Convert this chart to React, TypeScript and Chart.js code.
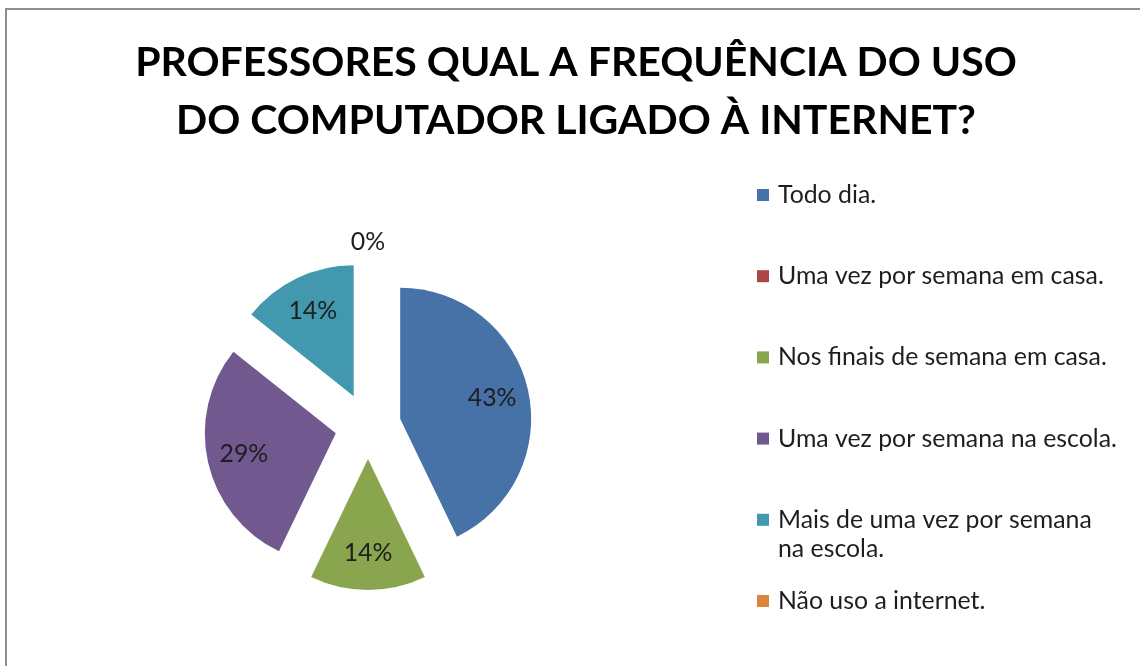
import React, { useEffect, useRef } from 'react';
import { Chart, registerables } from 'chart.js';

Chart.register(...registerables);

const TITLE_LINES = ['PROFESSORES QUAL A FREQUÊNCIA DO USO', 'DO COMPUTADOR LIGADO À INTERNET?'];
const categories = [
  'Todo dia.',
  'Uma vez por semana em casa.',
  'Nos finais de semana em casa.',
  'Uma vez por semana na escola.',
  'Mais de uma vez por semana na escola.',
  'Não uso a internet.',
];
const values = [3, 0, 1, 2, 1, 0];
const colors = ['#4672A8', '#AA4643', '#89A54E', '#71588F', '#4198AF', '#DB843D'];

const W = 1140;
const H = 666;
const EXPLODE = 33;
const FONT = 'Lato, "Open Sans", sans-serif';

function fitSize(ctx: CanvasRenderingContext2D, text: string, weight: string, target: number) {
  const base = 40;
  ctx.font = `${weight} ${base}px ${FONT}`;
  const w = ctx.measureText(text).width;
  return (base * target) / w;
}

function wrap(ctx: CanvasRenderingContext2D, text: string, maxWidth: number) {
  const words = text.split(' ');
  const lines: string[] = [];
  let cur = '';
  for (const w of words) {
    const t = cur ? cur + ' ' + w : w;
    if (ctx.measureText(t).width > maxWidth && cur) {
      lines.push(cur);
      cur = w;
    } else cur = t;
  }
  if (cur) lines.push(cur);
  return lines;
}

const decorPlugin = {
  id: 'decor',
  beforeDraw(chart: any) {
    const ctx = chart.ctx as CanvasRenderingContext2D;
    ctx.save();
    ctx.fillStyle = '#ffffff';
    ctx.fillRect(0, 0, chart.width, chart.height);
    ctx.strokeStyle = '#8e8e8e';
    ctx.lineWidth = 2;
    ctx.beginPath();
    ctx.moveTo(6, chart.height);
    ctx.lineTo(6, 9);
    ctx.lineTo(chart.width, 9);
    ctx.stroke();
    ctx.restore();
  },
  beforeDatasetDraw(chart: any, args: any) {
    const ctx = chart.ctx as CanvasRenderingContext2D;
    for (const arc of args.meta.data) {
      const mid = (arc.startAngle + arc.endAngle) / 2;
      ctx.save();
      ctx.translate(Math.cos(mid) * EXPLODE, Math.sin(mid) * EXPLODE);
      arc.draw(ctx);
      ctx.restore();
    }
    return false;
  },
  afterDatasetsDraw(chart: any) {
    const ctx = chart.ctx as CanvasRenderingContext2D;
    const meta = chart.getDatasetMeta(0);
    const data = chart.data.datasets[0].data as number[];
    const total = data.reduce((a, b) => a + b, 0);
    const size = fitSize(ctx, 'Uma vez por semana em casa.', 'normal', 326);
    ctx.save();
    ctx.font = `normal ${size}px ${FONT}`;
    ctx.fillStyle = '#1e1e1e';
    ctx.textAlign = 'center';
    ctx.textBaseline = 'middle';
    meta.data.forEach((arc: any, i: number) => {
      const v = data[i];
      if (v === 0 && i !== data.length - 1) return;
      const mid = (arc.startAngle + arc.endAngle) / 2;
      const ax = arc.x + Math.cos(mid) * EXPLODE;
      const ay = arc.y + Math.sin(mid) * EXPLODE;
      const d = v === 0 ? arc.outerRadius * 1.15 : arc.outerRadius * 0.72;
      const label = Math.round((v / total) * 100) + '%';
      ctx.fillText(label, ax + Math.cos(mid) * d, ay + Math.sin(mid) * d);
    });
    ctx.restore();
  },
  afterDraw(chart: any) {
    const ctx = chart.ctx as CanvasRenderingContext2D;
    ctx.save();
    // title
    const tSize = fitSize(ctx, TITLE_LINES[0], 'bold', 882);
    ctx.font = `bold ${tSize}px ${FONT}`;
    ctx.fillStyle = '#000000';
    ctx.textAlign = 'center';
    ctx.textBaseline = 'middle';
    TITLE_LINES.forEach((line, i) => ctx.fillText(line, 576, 63 + i * 58));
    // legend
    const size = fitSize(ctx, 'Uma vez por semana em casa.', 'normal', 326);
    ctx.font = `normal ${size}px ${FONT}`;
    ctx.textAlign = 'left';
    const labels = chart.data.labels as string[];
    const bg = chart.data.datasets[0].backgroundColor as string[];
    labels.forEach((lab, i) => {
      const y = 195 + i * 81.2;
      ctx.fillStyle = bg[i];
      ctx.fillRect(757, y - 6, 12, 12);
      ctx.fillStyle = '#1e1e1e';
      const lines = wrap(ctx, lab, 341);
      lines.forEach((ln, j) => ctx.fillText(ln, 778, y + j * 29));
    });
    ctx.restore();
  },
};

export default function App() {
  const ref = useRef<HTMLCanvasElement>(null);
  useEffect(() => {
    const chart = new Chart(ref.current!, {
      type: 'pie',
      data: {
        labels: categories,
        datasets: [
          {
            data: values,
            backgroundColor: colors,
            borderWidth: 0,
          },
        ],
      },
      options: {
        responsive: false,
        animation: false,
        events: [],
        layout: { padding: { left: 237, right: 641, top: 295, bottom: 109 } },
        plugins: {
          legend: { display: false },
          title: { display: false },
          tooltip: { enabled: false },
        },
      },
      plugins: [decorPlugin],
    });
    return () => chart.destroy();
  }, []);
  return (
    <div style={{ position: 'absolute', left: 0, top: 0, width: W, height: H, overflow: 'hidden' }}>
      <canvas ref={ref} width={W} height={H} style={{ display: 'block' }} />
    </div>
  );
}
